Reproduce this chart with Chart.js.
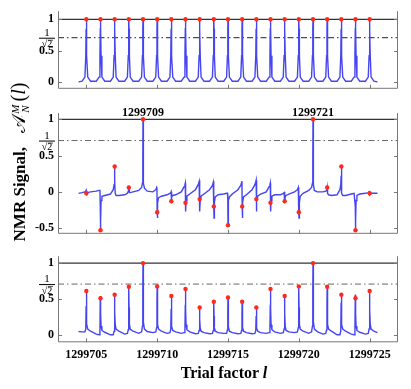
<!DOCTYPE html>
<html>
<head>
<meta charset="utf-8">
<script src="https://cdn.jsdelivr.net/npm/chart.js@4/dist/chart.umd.min.js"></script>
<style>
  body { margin: 0; background: #fff; }
  #wrap { position: relative; width: 411px; height: 389px; overflow: hidden; font-family: 'Liberation Serif', serif; }
  canvas { position: absolute; left: 0; }
  #ytitle { position: absolute; left: -92px; top: 151px; width: 220px; height: 22px; line-height: 22px;
            text-align: center; transform: rotate(-90deg); font-weight: bold; font-size: 17px; white-space: nowrap; }
  #ytitle .A { font-family: 'DejaVu Serif', serif; font-weight: normal; font-size: 19px; margin-left: 10px; }
  #ytitle .ix { display: inline-block; vertical-align: -4px; font-size: 11px; line-height: 10px; font-style: italic; font-weight: normal; margin: 0 3px 0 1px; }
  #ytitle .ix span { display: block; }
  #ytitle .arg { font-weight: normal; font-size: 20px; }
  #xtitle { position: absolute; left: 124px; top: 363px; width: 200px; height: 20px; line-height: 20px;
            text-align: center; font-weight: bold; font-size: 16px; white-space: nowrap; }
</style>
</head>
<body>
<div id="wrap">
  <canvas id="top" width="411" height="100" style="top:0px"></canvas>
  <canvas id="mid" width="411" height="145" style="top:100px"></canvas>
  <canvas id="bot" width="411" height="144" style="top:245px"></canvas>
  <div id="ytitle">NMR Signal,&nbsp;<span class="A">𝒜</span><span class="ix"><span>M</span><span>N</span></span><span class="arg">(<i>l</i>)</span></div>
  <div id="xtitle">Trial factor <i>l</i></div>
</div>
<script>
// trial factors and axis ticks
var factors = [1299705, 1299706, 1299707, 1299708, 1299709, 1299710, 1299711, 1299712, 1299713, 1299714,
               1299715, 1299716, 1299717, 1299718, 1299719, 1299720, 1299721, 1299722, 1299723, 1299724, 1299725];
var xTicks = [1299705, 1299710, 1299715, 1299720, 1299725];
var xRange = [1299703, 1299727];
var peakLabels = [1299709, 1299721];
var invSqrt2 = Math.SQRT1_2;

var topTicks = [0, 0.5, 1];
var midTicks = [-0.5, 0, 0.5, 1];
var botTicks = [0, 0.5, 1];

// signal at the integer trial factors (red dots)
var topDots = [1, 1, 1, 1, 1, 1, 1, 1, 1, 1, 1, 1, 1, 1, 1, 1, 1, 1, 1, 1, 1];
var midDots = [-0.02, -0.53, 0.35, 0.06, 1, -0.28, -0.13, -0.15, -0.1, -0.2, -0.46,
               -0.2, -0.1, -0.15, -0.13, -0.28, 1, 0.06, 0.35, -0.53, -0.02];
var botDots = [0.61, 0.51, 0.56, 0.67, 1, 0.675, 0.54, 0.64, 0.38, 0.46, 0.52,
               0.46, 0.38, 0.64, 0.54, 0.675, 1, 0.67, 0.56, 0.51, 0.61];

// continuous curve, read around each factor at these offsets
var offsets = [-0.3, -0.1, -0.04, -0.015, 0, 0.015, 0.04, 0.1, 0.3];
var curveX = [1299704.45, 1299725.55];

var topEnds = [0.005, 0.005];
var topCurve = [
  [0.015, 0.08, 0.42, 0.85, 1, 0.85, 0.42, 0.08, 0.015],
  [0.015, 0.08, 0.42, 0.85, 1, 0.85, 0.42, 0.08, 0.015],
  [0.015, 0.08, 0.42, 0.85, 1, 0.85, 0.42, 0.08, 0.015],
  [0.015, 0.08, 0.42, 0.85, 1, 0.85, 0.42, 0.08, 0.015],
  [0.015, 0.08, 0.42, 0.85, 1, 0.85, 0.42, 0.08, 0.015],
  [0.015, 0.08, 0.42, 0.85, 1, 0.85, 0.42, 0.08, 0.015],
  [0.015, 0.08, 0.42, 0.85, 1, 0.85, 0.42, 0.08, 0.015],
  [0.015, 0.08, 0.42, 0.85, 1, 0.85, 0.42, 0.08, 0.015],
  [0.015, 0.08, 0.42, 0.85, 1, 0.85, 0.42, 0.08, 0.015],
  [0.015, 0.08, 0.42, 0.85, 1, 0.85, 0.42, 0.08, 0.015],
  [0.015, 0.08, 0.42, 0.85, 1, 0.85, 0.42, 0.08, 0.015],
  [0.015, 0.08, 0.42, 0.85, 1, 0.85, 0.42, 0.08, 0.015],
  [0.015, 0.08, 0.42, 0.85, 1, 0.85, 0.42, 0.08, 0.015],
  [0.015, 0.08, 0.42, 0.85, 1, 0.85, 0.42, 0.08, 0.015],
  [0.015, 0.08, 0.42, 0.85, 1, 0.85, 0.42, 0.08, 0.015],
  [0.015, 0.08, 0.42, 0.85, 1, 0.85, 0.42, 0.08, 0.015],
  [0.015, 0.08, 0.42, 0.85, 1, 0.85, 0.42, 0.08, 0.015],
  [0.015, 0.08, 0.42, 0.85, 1, 0.85, 0.42, 0.08, 0.015],
  [0.015, 0.08, 0.42, 0.85, 1, 0.85, 0.42, 0.08, 0.015],
  [0.015, 0.08, 0.42, 0.85, 1, 0.85, 0.42, 0.08, 0.015],
  [0.015, 0.08, 0.42, 0.85, 1, 0.85, 0.42, 0.08, 0.015]
];

var midEnds = [-0.02, -0.02];
var midCurve = [
  [-0.01, 0.0, 0.01, 0.02, -0.02, -0.05, -0.03, -0.01, 0.0],
  [0.01, 0.02, 0.03, -0.2, -0.53, -0.4, -0.12, -0.06, -0.05],
  [-0.03, 0.03, 0.1, 0.22, 0.35, 0.15, -0.02, -0.05, -0.05],
  [-0.04, -0.02, 0.01, 0.04, 0.06, 0.03, -0.01, -0.01, 0.0],
  [0.02, 0.06, 0.12, 0.4, 1, 0.4, 0.12, 0.05, 0.01],
  [0.0, 0.03, 0.06, 0.04, -0.28, -0.36, -0.15, -0.08, -0.06],
  [-0.04, -0.02, -0.01, 0.0, -0.13, -0.14, -0.07, -0.05, -0.04],
  [0.0, 0.07, 0.1, 0.12, -0.15, -0.27, -0.12, -0.06, -0.03],
  [0.03, 0.1, 0.14, 0.16, -0.1, -0.27, -0.12, -0.06, -0.03],
  [0.03, 0.09, 0.13, 0.15, -0.2, -0.36, -0.15, -0.07, -0.04],
  [-0.03, -0.02, -0.02, -0.1, -0.46, -0.35, -0.12, -0.07, -0.03],
  [0.03, 0.09, 0.13, 0.15, -0.2, -0.36, -0.15, -0.07, -0.04],
  [0.03, 0.1, 0.14, 0.16, -0.1, -0.27, -0.12, -0.06, -0.03],
  [0.0, 0.07, 0.1, 0.12, -0.15, -0.27, -0.12, -0.06, -0.04],
  [-0.04, -0.02, -0.01, 0.0, -0.13, -0.14, -0.07, -0.05, -0.03],
  [0.0, 0.03, 0.06, 0.04, -0.28, -0.36, -0.15, -0.06, -0.02],
  [0.02, 0.06, 0.12, 0.4, 1, 0.4, 0.1, 0.02, 0.0],
  [0.0, 0.01, 0.02, 0.04, 0.06, 0.03, -0.02, -0.04, -0.05],
  [-0.04, 0.03, 0.1, 0.22, 0.35, 0.15, -0.02, -0.05, -0.05],
  [-0.03, -0.02, -0.02, -0.2, -0.53, -0.4, -0.12, -0.05, -0.03],
  [-0.02, -0.01, 0.0, 0.01, -0.02, -0.04, -0.03, -0.02, -0.02]
];

var botEnds = [0.045, 0.03];
var botCurve = [
  [0.04, 0.04, 0.08, 0.4, 0.61, 0.35, 0.15, 0.08, 0.05],
  [0.01, 0.0, 0.05, 0.54, 0.51, 0.3, 0.12, 0.06, 0.035],
  [0.0, 0.0, 0.05, 0.45, 0.56, 0.32, 0.14, 0.08, 0.05],
  [0.01, 0.02, 0.07, 0.45, 0.67, 0.38, 0.15, 0.08, 0.05],
  [0.02, 0.04, 0.12, 0.6, 1, 0.5, 0.18, 0.08, 0.045],
  [0.03, 0.04, 0.1, 0.45, 0.675, 0.38, 0.15, 0.08, 0.05],
  [0.02, 0.03, 0.08, 0.36, 0.54, 0.3, 0.12, 0.06, 0.04],
  [0.02, 0.03, 0.08, 0.42, 0.64, 0.36, 0.14, 0.07, 0.04],
  [0.015, 0.02, 0.06, 0.26, 0.38, 0.22, 0.09, 0.05, 0.03],
  [0.015, 0.02, 0.06, 0.3, 0.46, 0.26, 0.1, 0.05, 0.03],
  [0.02, 0.02, 0.07, 0.34, 0.52, 0.29, 0.11, 0.05, 0.03],
  [0.015, 0.02, 0.06, 0.3, 0.46, 0.26, 0.1, 0.05, 0.03],
  [0.015, 0.02, 0.06, 0.26, 0.38, 0.22, 0.09, 0.05, 0.03],
  [0.02, 0.03, 0.08, 0.42, 0.64, 0.36, 0.14, 0.07, 0.04],
  [0.02, 0.03, 0.08, 0.36, 0.54, 0.3, 0.12, 0.06, 0.04],
  [0.03, 0.04, 0.1, 0.45, 0.675, 0.38, 0.15, 0.08, 0.05],
  [0.02, 0.04, 0.12, 0.6, 1, 0.5, 0.18, 0.08, 0.045],
  [0.01, 0.02, 0.07, 0.45, 0.67, 0.38, 0.15, 0.08, 0.05],
  [0.0, 0.0, 0.05, 0.45, 0.56, 0.32, 0.14, 0.08, 0.05],
  [0.01, 0.0, 0.05, 0.56, 0.51, 0.3, 0.12, 0.06, 0.035],
  [0.01, 0.02, 0.08, 0.4, 0.61, 0.35, 0.15, 0.08, 0.05]
];

var serif = "'Liberation Serif', 'Times New Roman', serif";

function curvePoints(rows, ends) {
  var pts = [{x: curveX[0], y: ends[0]}];
  rows.forEach(function (row, i) {
    row.forEach(function (v, j) {
      pts.push({x: factors[i] + offsets[j], y: v});
    });
  });
  pts.push({x: curveX[1], y: ends[1]});
  return pts;
}

function dotPoints(vals) {
  return vals.map(function (v, i) { return {x: factors[i], y: v}; });
}

// frame, inner tick marks, 1/sqrt2 label and peak labels
var framePlugin = {
  id: 'frame',
  afterDatasetsDraw: function (chart, args, o) {
    var a = chart.chartArea, ctx = chart.ctx;
    var xs = chart.scales.x, ys = chart.scales.y;
    ctx.save();
    ctx.strokeStyle = '#777';
    ctx.lineWidth = 1;
    ctx.beginPath();
    ctx.moveTo(a.left + 0.5, a.top);
    ctx.lineTo(a.left + 0.5, a.bottom - 0.5);
    ctx.lineTo(a.right - 0.5, a.bottom - 0.5);
    ctx.lineTo(a.right - 0.5, a.top);
    o.yTicks.forEach(function (v) {
      var py = Math.round(ys.getPixelForValue(v)) + 0.5;
      ctx.moveTo(a.left, py); ctx.lineTo(a.left + 4, py);
      ctx.moveTo(a.right, py); ctx.lineTo(a.right - 4, py);
    });
    xTicks.forEach(function (v) {
      var px = Math.round(xs.getPixelForValue(v)) + 0.5;
      ctx.moveTo(px, a.bottom); ctx.lineTo(px, a.bottom - 4);
    });
    ctx.stroke();

    // 1/sqrt(2) fraction beside the axis
    var fy = ys.getPixelForValue(invSqrt2), cx = a.left - 11;
    ctx.fillStyle = '#000';
    ctx.strokeStyle = '#000';
    ctx.font = '11px ' + serif;
    ctx.textAlign = 'center';
    ctx.textBaseline = 'alphabetic';
    ctx.fillText('1', cx, fy - 2);
    ctx.beginPath();
    ctx.moveTo(cx - 8, fy + 0.5); ctx.lineTo(cx + 8, fy + 0.5);
    ctx.stroke();
    ctx.font = '10px ' + serif;
    ctx.textBaseline = 'top';
    ctx.fillText('\u221A2', cx, fy + 2);
    ctx.lineWidth = 0.7;
    ctx.beginPath();
    ctx.moveTo(cx + 1, fy + 2.5); ctx.lineTo(cx + 6, fy + 2.5);
    ctx.stroke();

    if (o.peaks) {
      ctx.font = 'bold 12px ' + serif;
      ctx.textBaseline = 'alphabetic';
      o.peaks.forEach(function (v) {
        ctx.fillText(String(v), xs.getPixelForValue(v), ys.getPixelForValue(1) - 3);
      });
    }
    ctx.restore();
  }
};

function panel(id, p) {
  return new Chart(document.getElementById(id), {
    type: 'line',
    data: {
      datasets: [
        {
          data: dotPoints(p.dots),
          showLine: false,
          pointRadius: 2.2,
          pointBackgroundColor: '#ff2a1a',
          pointBorderWidth: 0
        },
        {
          data: curvePoints(p.curve, p.ends),
          borderColor: '#4545f2',
          borderWidth: 1.4,
          pointRadius: 0,
          tension: 0
        },
        {
          data: [{x: xRange[0], y: 1}, {x: xRange[1], y: 1}],
          borderColor: '#333',
          borderWidth: 1.2,
          pointRadius: 0
        },
        {
          data: [{x: xRange[0], y: invSqrt2}, {x: xRange[1], y: invSqrt2}],
          borderColor: p.dashColor,
          borderWidth: 1,
          borderDash: [6, 3, 1.5, 3],
          pointRadius: 0
        }
      ]
    },
    options: {
      responsive: false,
      animation: false,
      layout: { padding: { top: p.padTop, bottom: p.padBottom, left: 0, right: 13 } },
      plugins: {
        legend: { display: false },
        tooltip: { enabled: false },
        frame: { yTicks: p.yTicks, peaks: p.peaks }
      },
      scales: {
        x: {
          type: 'linear',
          min: xRange[0],
          max: xRange[1],
          display: p.showX,
          grid: { display: false, drawTicks: false },
          border: { display: false },
          afterBuildTicks: function (s) { s.ticks = xTicks.map(function (v) { return {value: v}; }); },
          afterFit: function (s) { s.height = p.xHeight || 0; },
          ticks: {
            autoSkip: false,
            maxRotation: 0,
            padding: 5,
            color: '#000',
            font: { family: serif, weight: 'bold', size: 12 },
            callback: function (v) { return String(v); }
          }
        },
        y: {
          min: p.yMin,
          max: p.yMax,
          grid: { display: false, drawTicks: false },
          border: { display: false },
          afterBuildTicks: function (s) { s.ticks = p.yTicks.map(function (v) { return {value: v}; }); },
          afterFit: function (s) { s.width = 58; },
          ticks: {
            padding: 4,
            color: '#000',
            font: { family: serif, weight: 'bold', size: 12 },
            callback: function (v) { return String(v); }
          }
        }
      }
    },
    plugins: [framePlugin]
  });
}

panel('top', { dots: topDots, curve: topCurve, ends: topEnds, yTicks: topTicks,
  yMin: -0.106, yMax: 1.129, padTop: 5, padBottom: 2, showX: false, dashColor: '#222' });
panel('mid', { dots: midDots, curve: midCurve, ends: midEnds, yTicks: midTicks, peaks: peakLabels,
  yMin: -0.578, yMax: 1.087, padTop: 13, padBottom: 3.3, showX: false, dashColor: '#666' });
panel('bot', { dots: botDots, curve: botCurve, ends: botEnds, yTicks: botTicks,
  yMin: -0.105, yMax: 1.096, padTop: 6, padBottom: 0, showX: true, xHeight: 46.7, dashColor: '#666' });
</script>
</body>
</html>
